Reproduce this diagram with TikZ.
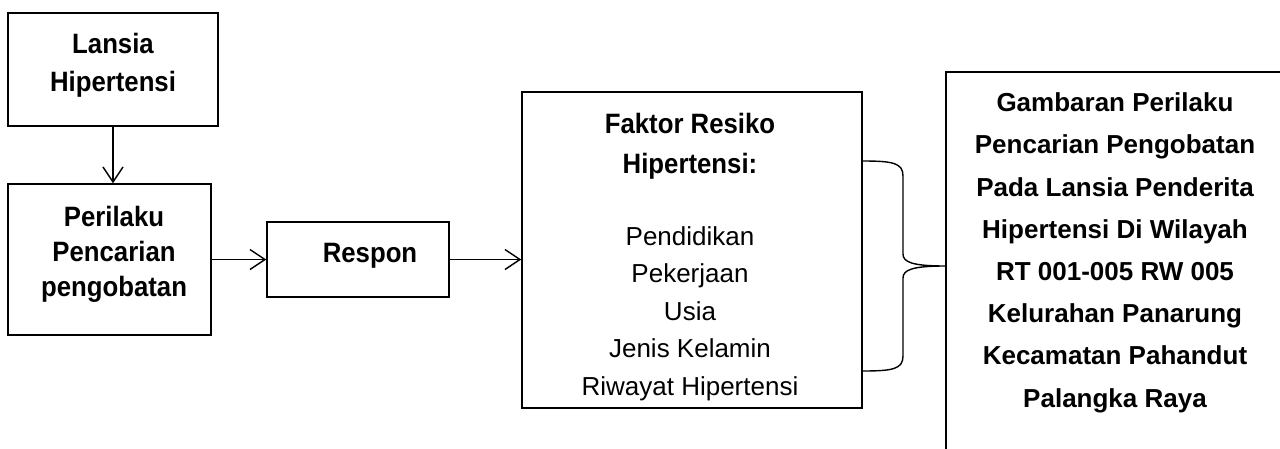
\documentclass[tikz,border=0pt]{standalone}
\usepackage{fontspec}
\setmainfont{Liberation Sans}
\newfontfamily\nfont{Liberation Sans}[FakeStretch=0.92]
\usetikzlibrary{arrows.meta}
\begin{document}
\begin{tikzpicture}[x=1pt,y=-1pt,
  box/.style={draw, line width=1.5pt, inner sep=0pt},
  arr/.style={line width=1.4pt, -{Straight Barb[length=15pt,width=20pt,line width=1.4pt]}},
  hd/.style={font=\nfont\bfseries\fontsize{28}{38}\selectfont, align=center, inner sep=0pt, anchor=base},
  rg/.style={font=\fontsize{26}{37.5}\selectfont, align=center, inner sep=0pt, anchor=base},
  rt/.style={font=\bfseries\fontsize{26}{42.2}\selectfont, align=center, inner sep=0pt, anchor=base},
  brace/.style={line width=1.4pt}]
\useasboundingbox (0,0) rectangle (1280,448);
\clip (0,0) rectangle (1280,448);
% boxes
\node[box, minimum width=210pt, minimum height=113pt] (b1) at (113,69.5) {};
\node[box, minimum width=203pt, minimum height=151pt] (b2) at (109.5,259.5) {};
\node[box, minimum width=182pt, minimum height=75pt] (r) at (358,259.5) {};
\node[box, minimum width=340pt, minimum height=316pt] (f) at (692,250) {};
\node[box, minimum width=454pt, minimum height=528pt] (rb) at (1173,336) {};
% texts (base anchor = baseline of last line)
\node[hd] (t1) at (113,91) {Lansia\\Hipertensi};
\node[hd, font=\nfont\bfseries\fontsize{28}{35}\selectfont] (t2) at (114,296) {Perilaku\\Pencarian\\pengobatan};
\node[hd] (t3) at (370,262) {Respon};
\node[hd, font=\nfont\bfseries\fontsize{28}{40}\selectfont] (t4) at (690,173) {Faktor Resiko\\Hipertensi:};
\node[rg] (t5) at (690,395) {Pendidikan\\Pekerjaan\\Usia\\Jenis Kelamin\\Riwayat Hipertensi};
\node[rt] (t6) at (1115,407) {Gambaran Perilaku\\Pencarian Pengobatan\\Pada Lansia Penderita\\Hipertensi Di Wilayah\\RT 001-005 RW 005\\Kelurahan Panarung\\Kecamatan Pahandut\\Palangka Raya};
% connectors
\draw[arr] (b1.south) -- (b1.south |- b2.north);
\draw[arr] (b2.east) -- (r.west);
\draw[arr] (r.east) -- (r.east -| f.west);
\coordinate (tip) at (rb.west |- 0,266);
\coordinate (bt) at (f.east |- 0,161);
\coordinate (bb) at (f.east |- 0,371);
\draw[brace] (bt) .. controls (893,161) and (903,163) .. (903,176) -- (903,254)
  .. controls (903,262) and (912,266) .. (tip)
  .. controls (912,266) and (903,270) .. (903,278) -- (903,356)
  .. controls (903,369) and (893,371) .. (bb);
\end{tikzpicture}
\end{document}
